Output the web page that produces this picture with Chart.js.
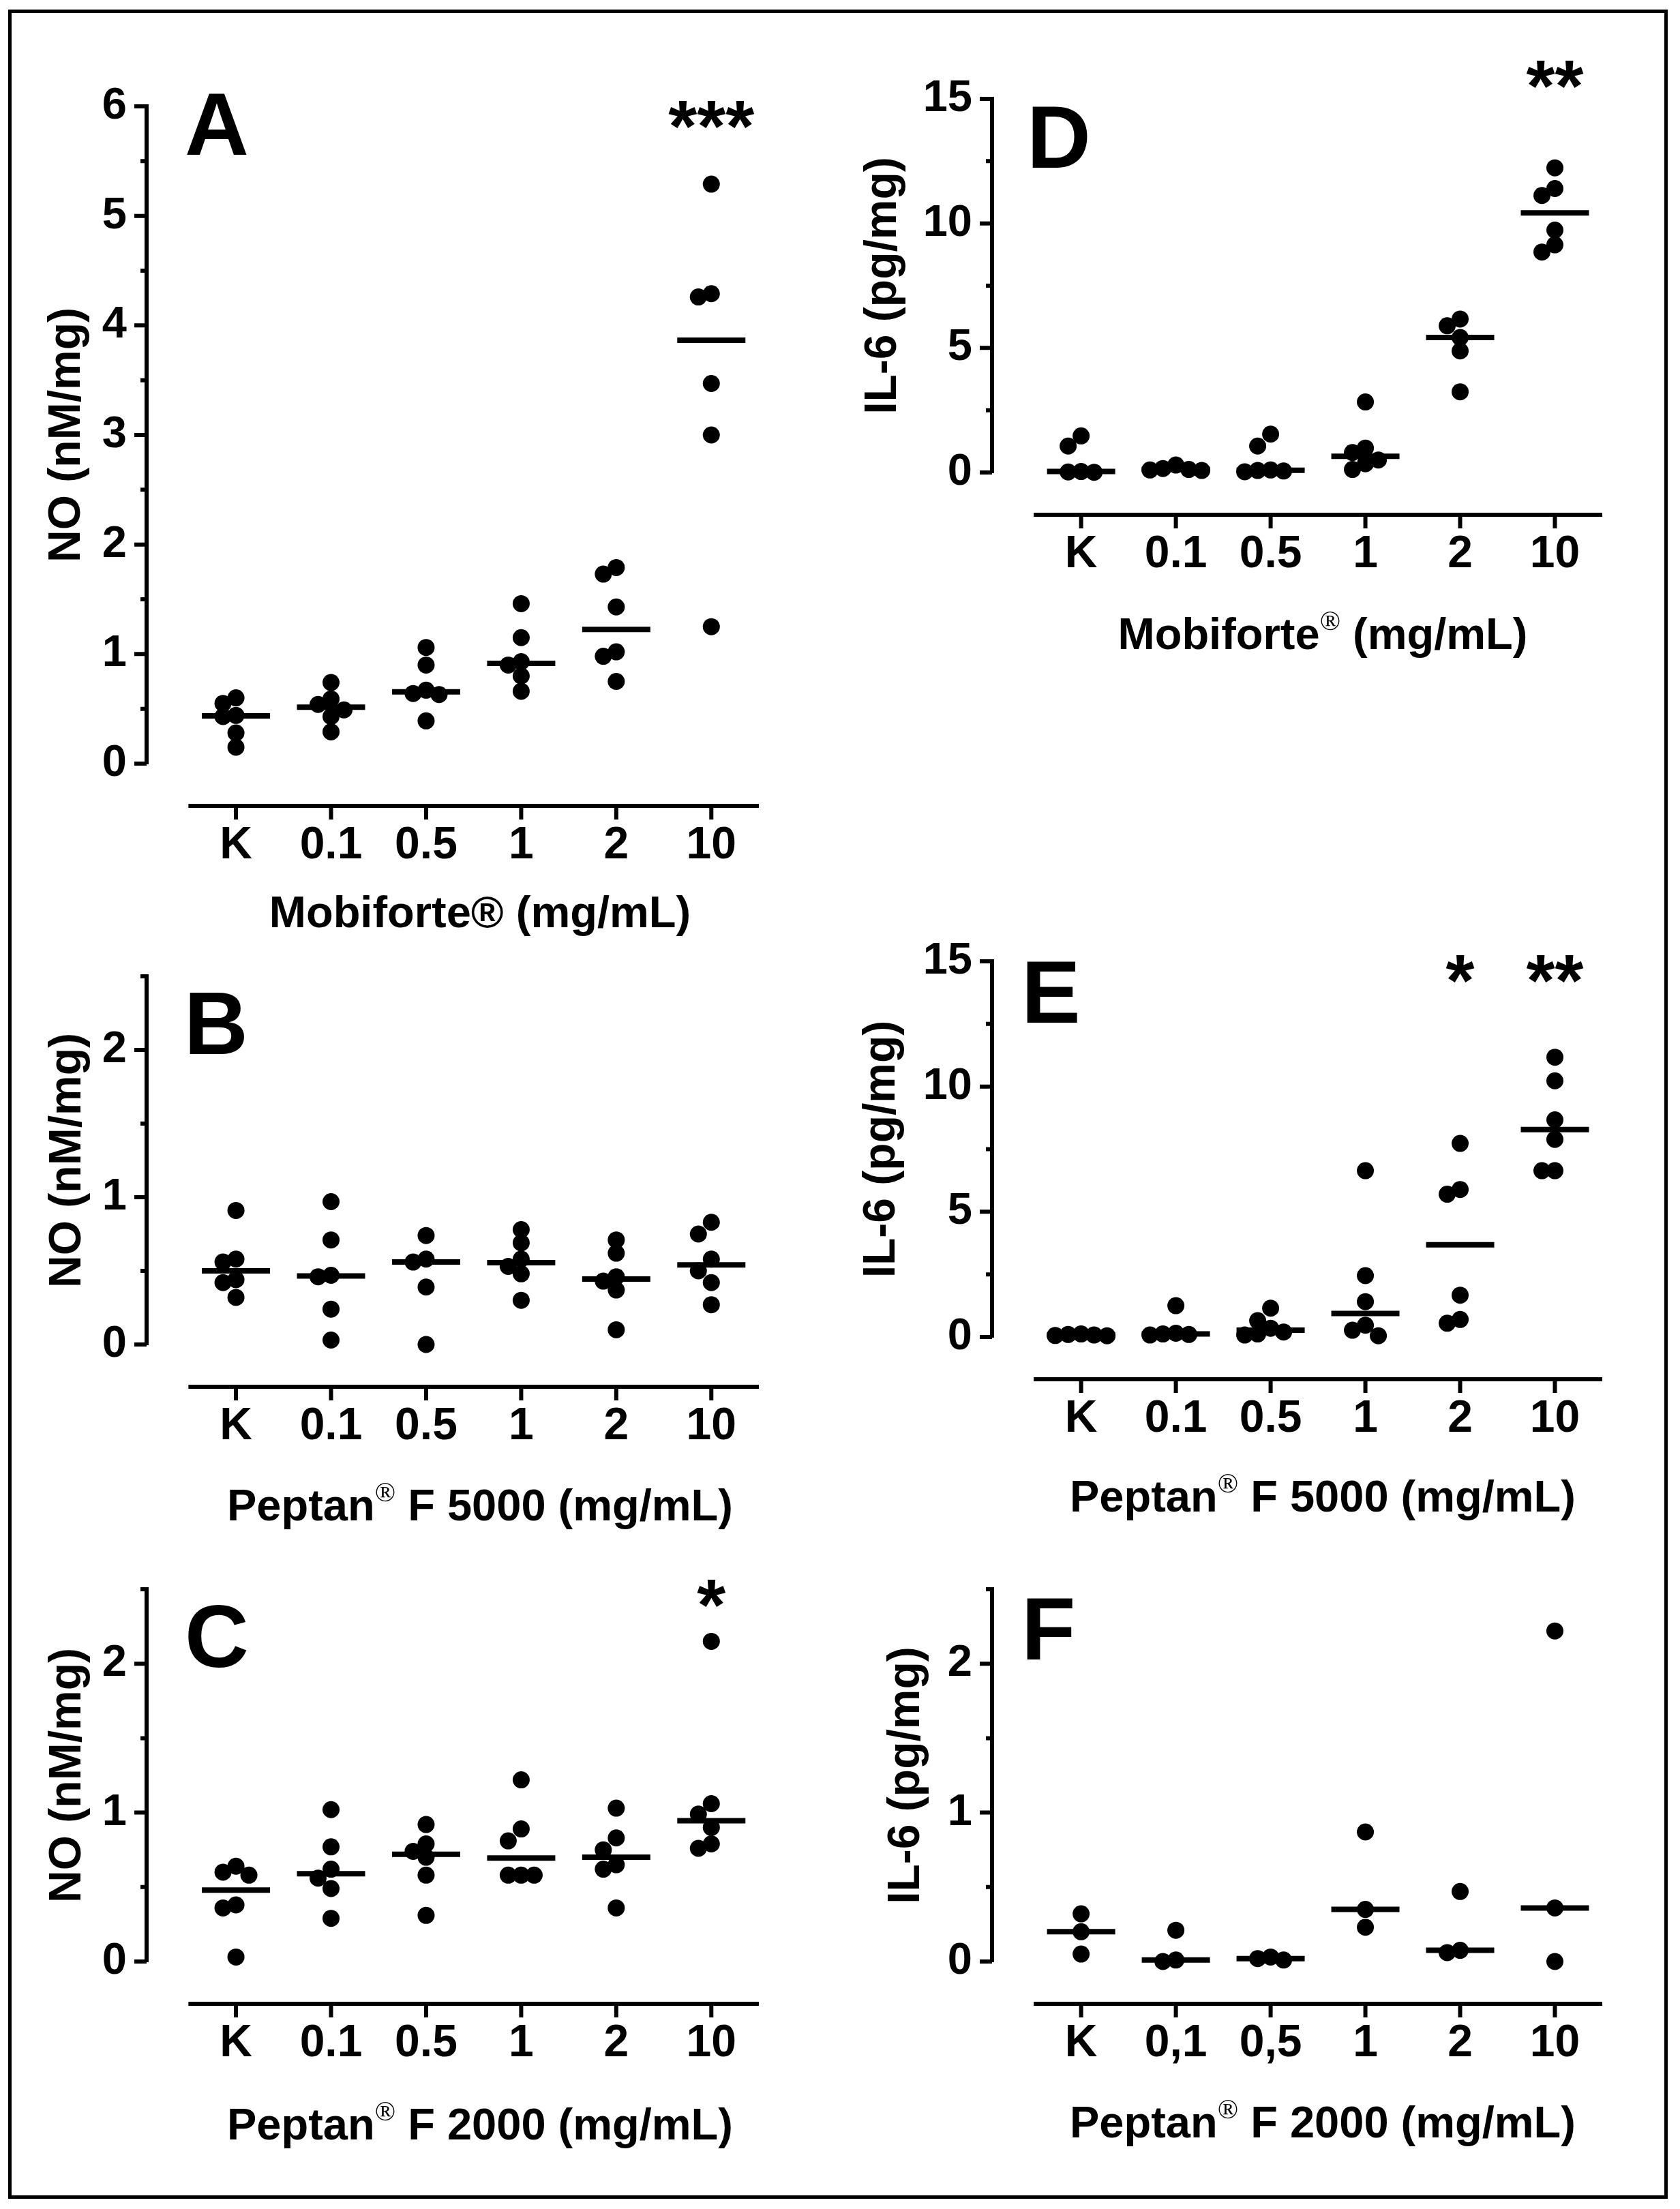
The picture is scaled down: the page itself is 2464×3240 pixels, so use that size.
<!DOCTYPE html>
<html lang="en">
<head>
<meta charset="UTF-8">
<title>NO e IL-6</title>
<script src="https://cdn.jsdelivr.net/npm/chart.js@4.4.1/dist/chart.umd.min.js"></script>
<style>
  body { margin: 0; background: #fff; width: 2464px; height: 3240px; position: relative; overflow: hidden;
         font-family: "Liberation Sans", Arial, sans-serif; color: #000; }
  #frame { position: absolute; left: 12px; top: 14px; width: 2434px; height: 3211px; border: 5px solid #000; box-sizing: border-box; }
  canvas { position: absolute; }
  .letter { position: absolute; font-weight: bold; font-size: 130px; line-height: 130px; }
  .xtitle { position: absolute; width: 1200px; text-align: center; font-weight: bold; font-size: 65px; line-height: 65px; white-space: nowrap; }
  .reg { font-family: "Liberation Serif", serif; font-weight: normal; font-size: 40px; position: relative; top: -28px; }
</style>
</head>
<body>
<div id="frame"></div>

<script>
// categories
const catsDot = ['K', '0.1', '0.5', '1', '2', '10'];
const catsComma = ['K', '0,1', '0,5', '1', '2', '10'];

// A - NO, Mobiforte
const mobiNO = [
    [0.60, 0.55, 0.44, 0.43, 0.28, 0.15],
    [0.74, 0.59, 0.54, 0.49, 0.43, 0.29],
    [1.06, 0.90, 0.67, 0.64, 0.63, 0.39],
    [1.46, 1.15, 0.93, 0.90, 0.80, 0.66],
    [1.79, 1.73, 1.43, 1.02, 0.98, 0.75],
    [5.29, 4.29, 4.26, 3.47, 3.00, 1.25]
];
const starsMobiNO = ['', '', '', '', '', '***'];

// B - NO, Peptan F 5000
const pep5NO = [
    [0.91, 0.58, 0.56, 0.44, 0.42, 0.32],
    [0.97, 0.71, 0.47, 0.46, 0.24, 0.03],
    [0.74, 0.58, 0.56, 0.39, 0.00],
    [0.78, 0.69, 0.58, 0.53, 0.48, 0.30],
    [0.71, 0.62, 0.46, 0.43, 0.37, 0.10],
    [0.83, 0.75, 0.58, 0.50, 0.42, 0.27]
];
const starsPep5NO = ['', '', '', '', '', ''];

// C - NO, Peptan F 2000
const pep2NO = [
    [0.64, 0.60, 0.58, 0.38, 0.36, 0.03],
    [1.02, 0.77, 0.62, 0.56, 0.49, 0.29],
    [0.92, 0.79, 0.74, 0.70, 0.58, 0.31],
    [1.22, 0.89, 0.81, 0.58, 0.58, 0.58],
    [1.03, 0.83, 0.75, 0.65, 0.62, 0.36],
    [2.15, 1.06, 0.99, 0.90, 0.79, 0.76]
];
const starsPep2NO = ['', '', '', '', '', '*'];

// D - IL-6, Mobiforte
const mobiIL6 = [
    [1.47, 1.06, 0.04, 0.02, 0.01],
    [0.30, 0.16, 0.12, 0.10, 0.08],
    [1.54, 1.06, 0.10, 0.08, 0.06, 0.03],
    [2.83, 0.98, 0.80, 0.50, 0.35, 0.12],
    [6.16, 5.89, 5.42, 4.88, 3.24],
    [12.23, 11.40, 11.12, 9.73, 9.14, 8.85]
];
const starsMobiIL6 = ['', '', '', '', '', '**'];

// E - IL-6, Peptan F 5000
const pep5IL6 = [
    [0.12, 0.10, 0.08, 0.06, 0.05],
    [1.25, 0.15, 0.12, 0.10, 0.08],
    [1.15, 0.65, 0.35, 0.20, 0.12, 0.08],
    [6.64, 2.45, 1.41, 0.47, 0.27, 0.05],
    [7.73, 5.89, 5.70, 1.67, 0.70, 0.55],
    [11.17, 10.23, 8.67, 7.89, 6.64, 6.64]
];
const starsPep5IL6 = ['', '', '', '', '*', '**'];

// F - IL-6, Peptan F 2000
const pep2IL6 = [
    [0.32, 0.20, 0.05],
    [0.21, 0.01, 0.00],
    [0.03, 0.02, 0.01],
    [0.87, 0.35, 0.23],
    [0.47, 0.075, 0.06],
    [2.22, 0.36, 0.00]
];
const starsPep2IL6 = ['', '', '', '', '', ''];

const FONT = '"Liberation Sans", Arial, sans-serif';

const panels = [
    { letter: 'A', cats: catsDot, vals: mobiNO, stars: starsMobiNO, starY: 5.89, yMax: 6, yStep: 0.5, yMajor: 1,
      yTitle: 'NO (nM/mg)', xName: 'Mobiforte®', xRest: ' (mg/mL)', sup: false,
      axisX: 215, xRight: 1131, yTop: 156, yBottom: 1120, yW: 160, letterX: 271, letterTop: 117, titleBase: 1360, titleCx: 704 },
    { letter: 'B', cats: catsDot, vals: pep5NO, stars: starsPep5NO, starY: 2.45, yMax: 2.5, yStep: 0.5, yMajor: 1,
      yTitle: 'NO (nM/mg)', xName: 'Peptan', xRest: ' F 5000 (mg/mL)', sup: true,
      axisX: 215, xRight: 1131, yTop: 1432, yBottom: 1972, yW: 159, letterX: 270, letterTop: 1436, titleBase: 2230, titleCx: 704 },
    { letter: 'C', cats: catsDot, vals: pep2NO, stars: starsPep2NO, starY: 2.45, yMax: 2.5, yStep: 0.5, yMajor: 1,
      yTitle: 'NO (nM/mg)', xName: 'Peptan', xRest: ' F 2000 (mg/mL)', sup: true,
      axisX: 215, xRight: 1131, yTop: 2331, yBottom: 2877, yW: 159, letterX: 271, letterTop: 2335, titleBase: 3138, titleCx: 704 },
    { letter: 'D', cats: catsDot, vals: mobiIL6, stars: starsMobiIL6, starY: 15.84, yMax: 15, yStep: 2.5, yMajor: 5,
      yTitle: 'IL-6 (pg/mg)', xName: 'Mobiforte', xRest: ' (mg/mL)', sup: true,
      axisX: 1455, xRight: 2368, yTop: 145, yBottom: 693, yW: 203, letterX: 1506, letterTop: 136, titleBase: 952, titleCx: 1940 },
    { letter: 'E', cats: catsDot, vals: pep5IL6, stars: starsPep5IL6, starY: 14.55, yMax: 15, yStep: 2.5, yMajor: 5,
      yTitle: 'IL-6 (pg/mg)', xName: 'Peptan', xRest: ' F 5000 (mg/mL)', sup: true,
      axisX: 1455, xRight: 2368, yTop: 1410, yBottom: 1961, yW: 205, letterX: 1498, letterTop: 1390, titleBase: 2217, titleCx: 1940 },
    { letter: 'F', cats: catsComma, vals: pep2IL6, stars: starsPep2IL6, starY: 2.45, yMax: 2.5, yStep: 0.5, yMajor: 1,
      yTitle: 'IL-6 (pg/mg)', xName: 'Peptan', xRest: ' F 2000 (mg/mL)', sup: true,
      axisX: 1455, xRight: 2368, yTop: 2331, yBottom: 2877, yW: 169, letterX: 1498, letterTop: 2324, titleBase: 3135, titleCx: 1940 }
];

function median(a) {
    const s = [...a].sort((p, q) => p - q);
    const m = s.length >> 1;
    return s.length % 2 ? s[m] : (s[m - 1] + s[m]) / 2;
}

// spreads overlapping dots sideways (scatter dot plot)
const swarm = {
    id: 'swarm',
    afterDatasetsUpdate(chart) {
        const meta = chart.getDatasetMeta(0);
        const raw = chart.data.datasets[0].data;
        const groups = {};
        meta.data.forEach((el, k) => {
            const g = raw[k].x;
            (groups[g] = groups[g] || []).push(el);
        });
        const step = 19, minD = 18.5;
        Object.values(groups).forEach(els => {
            const placed = [];
            els.forEach(el => {
                const x0 = el.x;
                for (let j = 0; j < 14; j++) {
                    const off = j === 0 ? 0 : (j % 2 ? -1 : 1) * Math.ceil(j / 2) * step;
                    if (placed.every(p => Math.hypot(p.x - (x0 + off), p.y - el.y) >= minD)) {
                        el.x = x0 + off;
                        break;
                    }
                }
                placed.push({ x: el.x, y: el.y });
            });
        });
    }
};

// detached x axis, y ticks and the significance stars
const axes = {
    id: 'axes',
    afterDraw(chart, args, opts) {
        const { ctx, chartArea, scales: { x, y } } = chart;
        ctx.save();
        ctx.strokeStyle = '#000';
        ctx.lineWidth = 6;
        const yy = chartArea.bottom + 62;
        ctx.beginPath();
        ctx.moveTo(x.getPixelForValue(-0.5), yy);
        ctx.lineTo(x.getPixelForValue(x.ticks.length - 0.5), yy);
        x.ticks.forEach(t => {
            const px = x.getPixelForValue(t.value);
            ctx.moveTo(px, yy);
            ctx.lineTo(px, yy + 20);
        });
        y.ticks.forEach(t => {
            const py = y.getPixelForValue(t.value);
            const len = t.label ? 18 : 9;
            ctx.moveTo(chartArea.left, py);
            ctx.lineTo(chartArea.left - len, py);
        });
        ctx.stroke();

        const fs = 108;
        ctx.fillStyle = '#000';
        ctx.font = 'bold ' + fs + 'px ' + FONT;
        ctx.textAlign = 'center';
        ctx.textBaseline = 'alphabetic';
        const sy = y.getPixelForValue(opts.starY);
        opts.stars.forEach((s, i) => {
            if (s) ctx.fillText(s, x.getPixelForValue(i), sy + 0.45 * fs);
        });
        ctx.restore();
    }
};

panels.forEach(p => {
    const padTop = 150, xH = 220, padRight = 40;
    const left = p.axisX - p.yW;
    const w = p.xRight + padRight - left;
    const h = padTop + (p.yBottom - p.yTop) + xH;

    const cv = document.createElement('canvas');
    cv.width = w;
    cv.height = h;
    cv.style.left = left + 'px';
    cv.style.top = (p.yTop - padTop) + 'px';
    cv.style.width = w + 'px';
    cv.style.height = h + 'px';
    document.body.appendChild(cv);

    const letter = document.createElement('div');
    letter.className = 'letter';
    letter.textContent = p.letter;
    letter.style.left = p.letterX + 'px';
    letter.style.top = p.letterTop + 'px';
    document.body.appendChild(letter);

    const title = document.createElement('div');
    title.className = 'xtitle';
    title.style.left = (p.titleCx - 600) + 'px';
    title.style.top = (p.titleBase - 55) + 'px';
    title.innerHTML = p.xName + (p.sup ? '<span class="reg">®</span>' : '') + p.xRest;
    document.body.appendChild(title);

    const points = [];
    p.vals.forEach((g, i) => g.forEach(v => points.push({ x: i, y: v })));
    const meds = p.vals.map((g, i) => ({ x: i, y: median(g) }));

    const nY = Math.round(p.yMax / p.yStep);
    const isMajor = v => Math.abs(v / p.yMajor - Math.round(v / p.yMajor)) < 1e-6;

    new Chart(cv, {
        data: {
            datasets: [
                { type: 'scatter', data: points, pointRadius: 12.5, pointHoverRadius: 12.5,
                  backgroundColor: '#000', pointBorderWidth: 0, clip: false },
                { type: 'scatter', data: meds, pointStyle: 'line', pointRadius: 50, pointHoverRadius: 50,
                  borderColor: '#000', pointBorderColor: '#000', pointBorderWidth: 8, clip: false }
            ]
        },
        options: {
            responsive: false,
            animation: false,
            events: [],
            layout: { padding: { top: padTop, right: padRight, bottom: 0, left: 0 } },
            plugins: {
                legend: { display: false },
                tooltip: { enabled: false },
                axes: { stars: p.stars, starY: p.starY }
            },
            scales: {
                x: {
                    type: 'linear',
                    min: -0.94,
                    max: 5.5,
                    afterBuildTicks: s => { s.ticks = p.cats.map((c, i) => ({ value: i })); },
                    afterFit: s => { s.height = xH; },
                    ticks: {
                        callback: (v, i) => p.cats[i],
                        autoSkip: false, maxRotation: 0, padding: 81, color: '#000',
                        font: { family: FONT, weight: 'bold', size: 66 }
                    },
                    grid: { display: false, drawTicks: false },
                    border: { display: false }
                },
                y: {
                    type: 'linear',
                    min: 0,
                    max: p.yMax,
                    afterBuildTicks: s => {
                        const t = [];
                        for (let k = 0; k <= nY; k++) t.push({ value: +(k * p.yStep).toFixed(4) });
                        s.ticks = t;
                    },
                    afterFit: s => { s.width = p.yW; },
                    ticks: {
                        callback: v => isMajor(v) ? String(Math.round(v)) : '',
                        autoSkip: false, padding: 29, color: '#000',
                        font: { family: FONT, weight: 'bold', size: 65 }
                    },
                    grid: { display: false, drawTicks: false },
                    border: { display: true, color: '#000', width: 6 },
                    title: {
                        display: true, text: p.yTitle, color: '#000',
                        font: { family: FONT, weight: 'bold', size: 66 },
                        padding: { top: 4, bottom: 0 }
                    }
                }
            }
        },
        plugins: [swarm, axes]
    });
});
</script>
</body>
</html>
